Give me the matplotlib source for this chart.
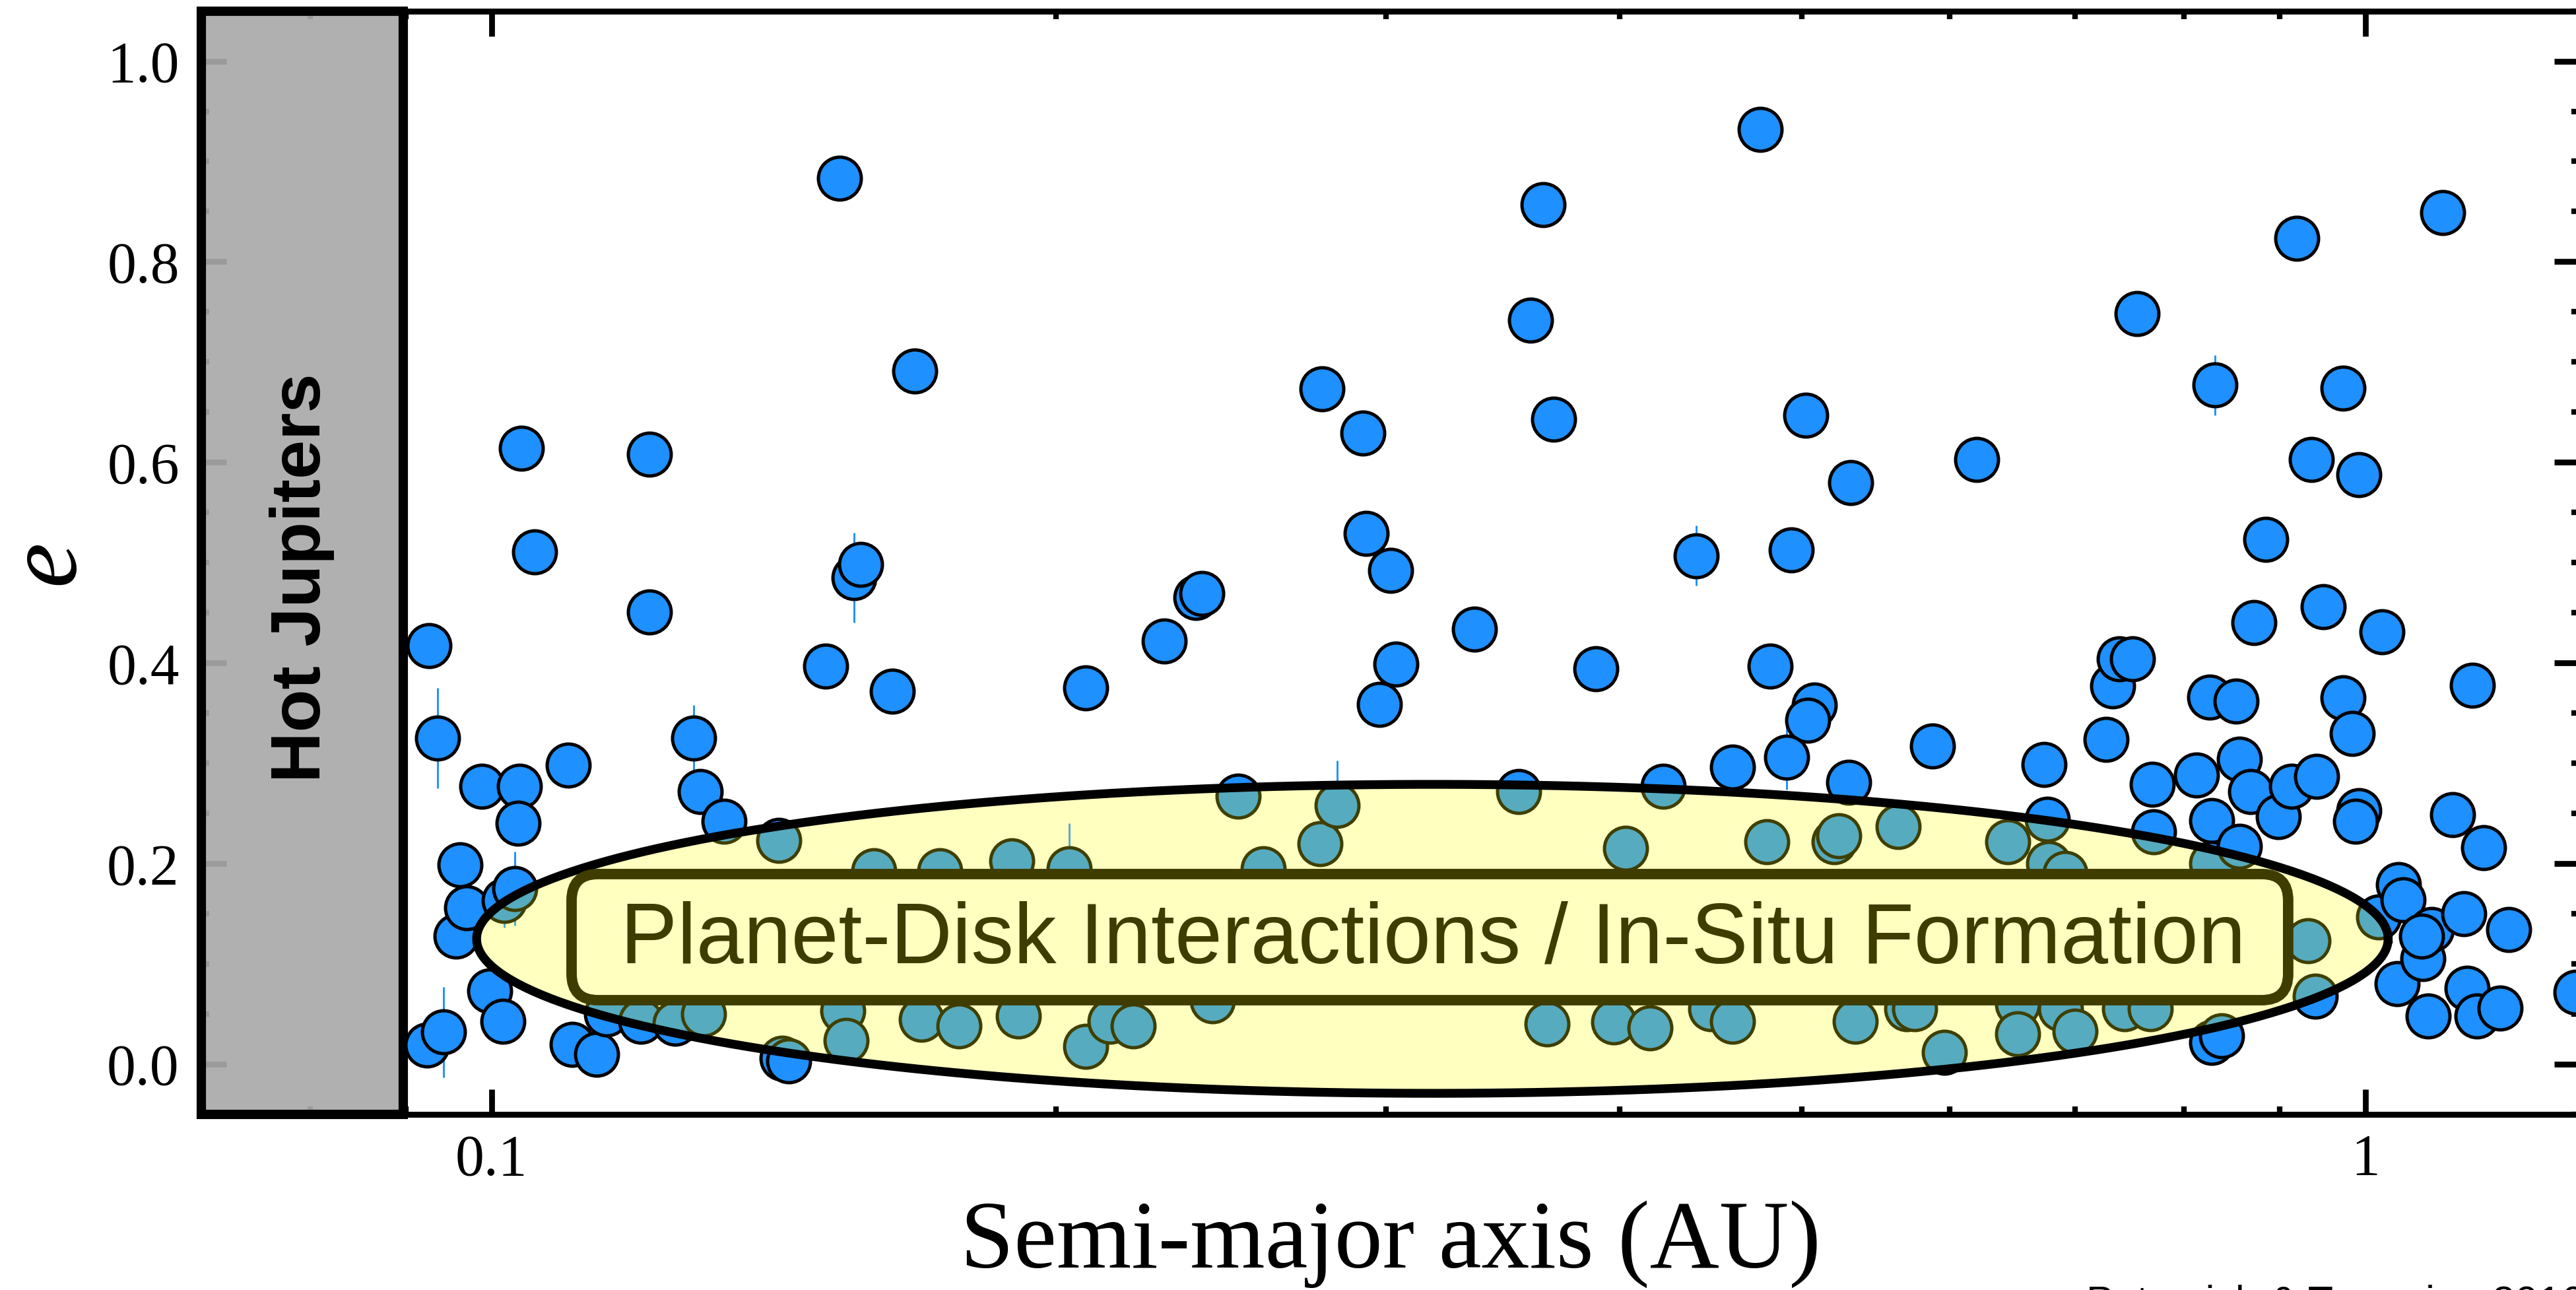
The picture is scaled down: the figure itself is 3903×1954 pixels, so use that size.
import numpy as np
import matplotlib
matplotlib.use("Agg")
import matplotlib.pyplot as plt
from matplotlib.patches import FancyBboxPatch
from matplotlib.ticker import FixedLocator, LogLocator, NullFormatter, MultipleLocator, FuncFormatter

plt.rcParams['font.family'] = ['Liberation Serif', 'DejaVu Serif']

# semi-major axis (AU), eccentricity and (few) eccentricity errors
semi_major_axis = [
    0.0926, 0.0936, 0.0924, 0.0943, 0.0962, 0.0957, 0.0970, 0.0988, 0.0998, 0.1014,
    0.1016, 0.1029, 0.1035, 0.1033, 0.1037, 0.1054, 0.1099, 0.1104, 0.1138, 0.1152,
    0.1201, 0.1253, 0.1297, 0.1214, 0.1214, 0.1282, 0.1292, 0.1331, 0.1423, 0.1429,
    0.1440, 0.1533, 0.1508, 0.1561, 0.1574, 0.1636, 0.1682, 0.1539, 0.1546, 0.1600,
    0.1734, 0.1696, 0.1776, 0.1895, 0.1910, 0.2033, 0.2075, 0.2075, 0.2138, 0.2200,
    0.2286, 0.2375, 0.2394, 0.2424, 0.2503, 0.2580, 0.2768, 0.2825, 0.2774, 0.2917,
    0.2929, 0.3019, 0.3037, 0.2977, 0.3346, 0.3533, 0.3583, 0.3641, 0.3686, 0.3656,
    0.3884, 0.4028, 0.3971, 0.4152, 0.4219, 0.4393, 0.4592, 0.4473, 0.4592, 0.4753,
    0.4810, 0.4938, 0.5028, 0.5080, 0.5039, 0.4909, 0.4791, 0.5204, 0.5236, 0.5309,
    0.5300, 0.5342, 0.5631, 0.5874, 0.5957, 0.5688, 0.5746, 0.6202, 0.6443, 0.6522,
    0.6522, 0.6736, 0.6762, 0.6776, 0.6915, 0.6872, 0.6998, 0.7270, 0.7328, 0.7388,
    0.7508, 0.7553, 0.7691, 0.7706, 0.7433, 0.7676, 0.8126, 0.8258, 0.8308, 0.8275,
    0.8275, 0.8275, 0.8375, 0.8527, 0.8562, 0.8683, 0.8719, 0.8842, 0.8985, 0.9131,
    0.9186, 0.9357, 0.9413, 0.9490, 0.9722, 0.9722, 0.9840, 0.9919, 0.9919, 0.9879,
    1.0204, 0.9320, 0.9396, 1.0162, 1.0411, 1.0474, 1.0390, 1.0730, 1.0839, 1.0796,
    1.0994, 1.1127, 1.1285, 1.1331, 1.1400, 1.1561, 1.1468, 1.1797, 1.1917, 1.2944,
    0.8562, 1.0710,
]
eccentricity = [
    0.417, 0.325, 0.019, 0.032, 0.199, 0.128, 0.156, 0.277, 0.073, 0.043,
    0.163, 0.175, 0.277, 0.240, 0.614, 0.511, 0.298, 0.020, 0.010, 0.050,
    0.043, 0.041, 0.050, 0.608, 0.451, 0.325, 0.272, 0.242, 0.223, 0.006,
    0.003, 0.883, 0.397, 0.485, 0.498, 0.372, 0.691, 0.053, 0.024, 0.193,
    0.193, 0.045, 0.038, 0.203, 0.048, 0.195, 0.375, 0.018, 0.043, 0.038,
    0.422, 0.465, 0.469, 0.063, 0.267, 0.195, 0.220, 0.258, 0.673, 0.629,
    0.529, 0.492, 0.399, 0.359, 0.434, 0.272, 0.742, 0.857, 0.643, 0.040,
    0.394, 0.215, 0.042, 0.036, 0.277, 0.507, 0.296, 0.055, 0.043, 0.932,
    0.397, 0.513, 0.647, 0.358, 0.343, 0.306, 0.222, 0.222, 0.228, 0.580,
    0.281, 0.043, 0.237, 0.317, 0.012, 0.055, 0.055, 0.603, 0.222, 0.060,
    0.030, 0.299, 0.244, 0.200, 0.190, 0.055, 0.033, 0.324, 0.377, 0.404,
    0.404, 0.748, 0.279, 0.232, 0.055, 0.055, 0.288, 0.366, 0.677, 0.243,
    0.200, 0.022, 0.028, 0.362, 0.304, 0.272, 0.440, 0.523, 0.247, 0.277,
    0.823, 0.603, 0.287, 0.456, 0.674, 0.365, 0.330, 0.588, 0.253, 0.242,
    0.431, 0.123, 0.068, 0.147, 0.179, 0.164, 0.080, 0.105, 0.134, 0.048,
    0.849, 0.249, 0.150, 0.076, 0.378, 0.216, 0.048, 0.056, 0.134, 0.072,
    0.217, 0.128,
]
ecc_error = [
    0, 0.05, 0, 0.045, 0, 0, 0, 0, 0, 0,
    0.027, 0.037, 0, 0, 0, 0, 0, 0, 0, 0,
    0, 0, 0, 0, 0, 0.033, 0, 0, 0, 0,
    0, 0, 0, 0.045, 0, 0, 0, 0, 0, 0,
    0, 0, 0, 0, 0, 0.045, 0, 0, 0, 0,
    0, 0, 0, 0, 0, 0, 0, 0.045, 0, 0,
    0, 0, 0, 0, 0, 0, 0, 0, 0, 0,
    0, 0, 0, 0, 0, 0.03, 0, 0, 0, 0,
    0, 0, 0, 0, 0, 0.032, 0, 0, 0, 0,
    0, 0, 0, 0, 0, 0, 0, 0, 0, 0,
    0, 0, 0, 0, 0, 0, 0, 0, 0, 0,
    0, 0, 0, 0, 0, 0, 0, 0, 0.03, 0,
    0, 0, 0, 0, 0, 0, 0, 0, 0, 0,
    0, 0, 0, 0, 0, 0, 0, 0, 0, 0,
    0, 0, 0, 0, 0, 0, 0, 0, 0, 0,
    0, 0, 0, 0, 0, 0, 0, 0, 0, 0,
    0, 0,
]

hot_jupiter_edge = 0.0897
x_limits = (0.07, 1.3)
y_limits = (-0.05, 1.05)

a = np.array(semi_major_axis)
e = np.array(eccentricity)
err = np.array(ecc_error)

fig = plt.figure(figsize=(3903 / 300, 1954 / 300), dpi=300)
ax = fig.add_axes([0.07815, 0.13613, 0.9231, 0.8554])
ax.set_xscale('log')
ax.set_xlim(*x_limits)
ax.set_ylim(*y_limits)

# hot jupiter band
ax.axvspan(x_limits[0], hot_jupiter_edge, facecolor=(0.663, 0.663, 0.663, 0.92),
           edgecolor='k', lw=3.4, clip_on=False, zorder=3)
ax.text(np.sqrt(x_limits[0] * hot_jupiter_edge), 0.485, 'Hot Jupiters',
        rotation=90, ha='center', va='center', fontsize=25.5, fontweight='bold',
        family='Liberation Sans', zorder=4)

# planets
m = err > 0
ax.errorbar(a[m], e[m], yerr=err[m], fmt='none', ecolor='#1e90ff',
            elinewidth=0.7, capsize=0, zorder=2)
ax.scatter(a, e, s=243, c='#1e90ff', edgecolors='k', linewidths=1.2, zorder=3)

# ellipse (centre / half-width in log a, centre / half-height in e)
t = np.linspace(0, 2 * np.pi, 500)
ell_x = 10 ** (-0.498 + 0.51 * np.cos(t))
ell_y = 0.125 + 0.154 * np.sin(t)
ax.fill(ell_x, ell_y, facecolor=(1, 1, 0, 0.25), edgecolor='none', zorder=4)
ax.plot(ell_x, ell_y, color='k', lw=3.2, zorder=5)

box = FancyBboxPatch((0.1557, 0.1035), 0.7219, 0.1143,
                     boxstyle='round,pad=0,rounding_size=0.0111',
                     mutation_aspect=3603 / 1671.5, transform=ax.transAxes,
                     facecolor='#ffffbf', edgecolor='#3f3c00', lw=3.8, zorder=6)
ax.add_patch(box)
ax.text(0.518, 0.1376, 'Planet-Disk Interactions / In-Situ Formation',
        transform=ax.transAxes, ha='center', va='baseline', fontsize=31,
        color='#3f3c00', family='Liberation Sans', zorder=7)

# axes styling
for s in ax.spines.values():
    s.set_linewidth(2.16)
ax.xaxis.set_major_locator(FixedLocator([0.1, 1]))
ax.xaxis.set_major_formatter(FuncFormatter(lambda v, p: '%g' % v))
ax.xaxis.set_minor_locator(LogLocator(base=10, subs=np.arange(2, 10)))
ax.xaxis.set_minor_formatter(NullFormatter())
ax.yaxis.set_major_locator(MultipleLocator(0.2))
ax.yaxis.set_minor_locator(MultipleLocator(0.05))
ax.yaxis.set_major_formatter(FuncFormatter(lambda v, p: '%.1f' % v))
ax.tick_params(which='major', direction='in', length=9.2, width=2.1,
               top=True, right=True, labelsize=21, pad=8)
ax.tick_params(which='minor', direction='in', length=2.9, width=2.0,
               top=True, right=True)
ax.tick_params(axis='x', which='major', pad=7)

ax.set_xlabel('Semi-major axis (AU)', fontsize=35, va='baseline')
ax.xaxis.set_label_coords(0.5, -0.1388)
ax.set_ylabel('e', fontsize=37, style='italic', va='center')
ax.yaxis.set_label_coords(-0.0644, 0.5)

# credit line, cut by the bottom edge as in the source image
fig.text(0.81, -0.0194, 'Petrovich & Tremaine 2016', fontsize=15,
         family='Liberation Sans', va='baseline', ha='left')

fig.savefig('out.png', dpi=300)
